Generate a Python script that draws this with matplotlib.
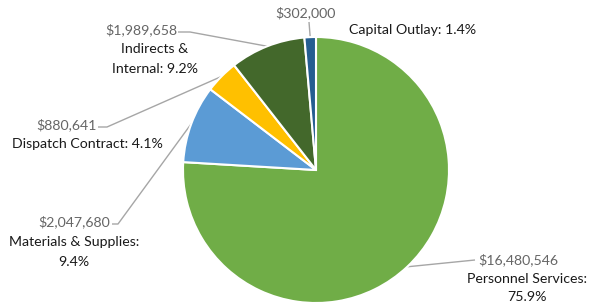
import numpy as np
import matplotlib
matplotlib.use("Agg")
import matplotlib.pyplot as plt

# budget categories, clockwise from 12 o'clock
categories = ["Personnel Services", "Materials & Supplies", "Dispatch Contract",
              "Indirects & Internal", "Capital Outlay"]
amounts = [16480546, 2047680, 880641, 1989658, 302000]
colors = ["#70AD47", "#5B9BD5", "#FFC000", "#43682B", "#255E91"]

W, H = 589, 304
fig = plt.figure(figsize=(W / 100, H / 100), dpi=100)
ax = fig.add_axes([0, 0, 1, 1])

cx, cy, r = 316, H - 170, 133
wedges, _ = ax.pie(amounts, colors=colors, startangle=90, counterclock=False,
                   center=(cx, cy), radius=r, frame=True,
                   wedgeprops=dict(edgecolor="white", linewidth=1.5))
ax.set_xlim(0, W)
ax.set_ylim(0, H)
ax.set_aspect("equal")
ax.axis("off")

plt.rcParams['font.family'] = ['Lato', 'DejaVu Sans']
val_c = "#666666"
name_c = "#1a1a1a"
fs = 10.2

total = sum(amounts)
pcts = [a / total * 100 for a in amounts]

# label layout: value position, name line positions, leader start and elbow
layout = [
    dict(val=(478, 260), ha="left", name=[(527, 279), (527, 297)],
         split=["Personnel Services:", "{p}"], lead=(475, 260), elbow=(475, 260)),
    dict(val=(110, 222), ha="right", name=[(74, 242), (74, 262)],
         split=["Materials & Supplies:", "{p}"], lead=(112, 224), elbow=(118, 224)),
    dict(val=(97, 125), ha="right", name=[(87, 144)],
         split=["Dispatch Contract: {p}"], lead=(98, 127), elbow=(107, 127)),
    dict(val=(177, 30), ha="right", name=[(155, 49), (155, 69)],
         split=["Indirects &", "Internal: {p}"], lead=(178, 32), elbow=(190, 32)),
    dict(val=(306, 13), ha="center", name=[(413, 30)],
         split=["Capital Outlay: {p}"], lead=(309, 22), elbow=(309, 22)),
]

for w, amt, pct, lay in zip(wedges, amounts, pcts, layout):
    mid = np.deg2rad((w.theta1 + w.theta2) / 2)
    ex, ey = cx + r * np.cos(mid), cy + r * np.sin(mid)
    vx, vy = lay["val"]
    ax.text(vx, H - vy, "${:,}".format(amt), ha=lay["ha"], va="center",
            color=val_c, fontsize=fs)
    for (nx, ny), line in zip(lay["name"], lay["split"]):
        ax.text(nx, H - ny, line.format(p="{:.1f}%".format(pct)), ha="center",
                va="center", color=name_c, fontsize=fs)
    lx, ly = lay["lead"]
    bx, by = lay["elbow"]
    ax.plot([lx, bx, ex], [H - ly, H - by, ey], color="#A6A6A6", lw=1,
            solid_capstyle="butt", zorder=0.5)

fig.savefig("out.png", dpi=100)
